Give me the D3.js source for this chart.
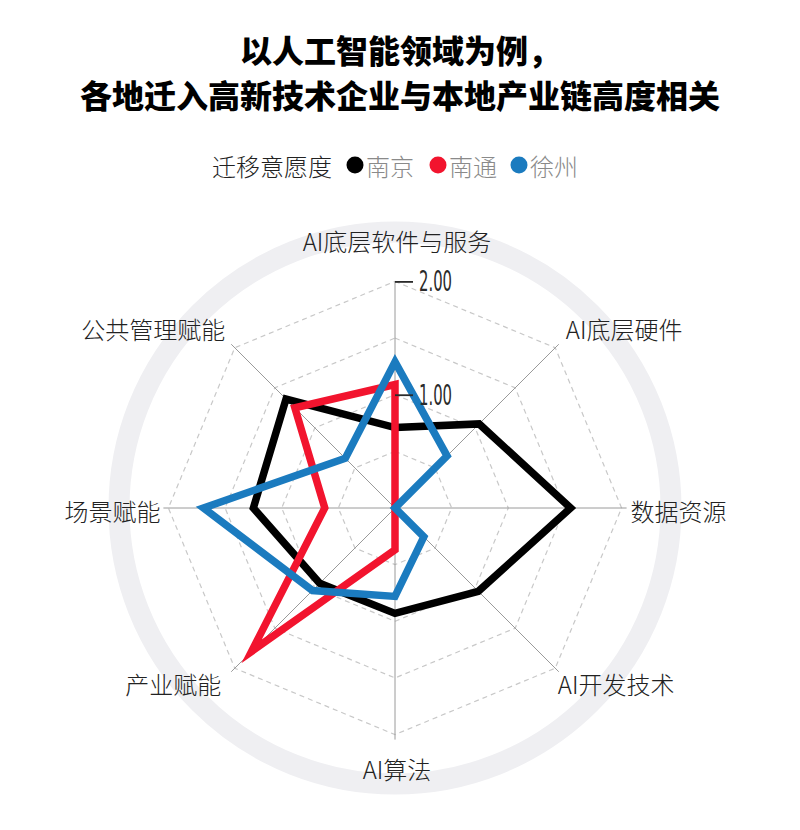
<!DOCTYPE html>
<html><head><meta charset="utf-8">
<script src="https://cdn.jsdelivr.net/npm/d3@7"></script>
<style>body{margin:0;background:#fff} svg{display:block}</style>
</head><body><svg id="c" width="800" height="830"></svg>
<script>
const axesNames = ["AI底层软件与服务","AI底层硬件","数据资源","AI开发技术","AI算法","产业赋能","场景赋能","公共管理赋能"];
const seriesNames = ["南京","南通","徐州"];
const nanjing = [0.71,1.05,1.55,1.04,0.93,0.94,1.25,1.36];
const nantong = [1.09,0,0,0,0.37,1.79,0.62,1.25];
const xuzhou  = [1.29,0.65,0,0.36,0.78,1.03,1.69,0.62];
const gridLevels = [0.5,1,1.5,2];
const tickValues = [1,2];
const tickLabels = ["1.00","2.00"];
const titleLines = ["以人工智能领域为例，","各地迁入高新技术企业与本地产业链高度相关"];
const legendTitle = "迁移意愿度";

const colors = ["#000000","#f2142e","#1b7bbf"];
const seriesData = [nanjing, nantong, xuzhou];
const svg = d3.select("#c");
const cx = 395, cy = 508;
const r = d3.scaleLinear().domain([0,2]).range([0,226.6]);
const n = axesNames.length;
const ang = i => i*2*Math.PI/n;
const CJK = "'Noto Sans CJK SC','Noto Sans',sans-serif";

// title
svg.selectAll("text.title").data(titleLines).join("text")
  .attr("class","title").attr("x",400).attr("y",(d,i)=>49+i*45)
  .attr("text-anchor","middle").attr("dominant-baseline","central")
  .attr("font-family",CJK).attr("font-weight",900).attr("font-size",32).attr("fill","#000")
  .text(d=>d);

// legend
const lg = svg.append("g");
lg.append("text").attr("x",212).attr("y",165).attr("dominant-baseline","central")
  .attr("font-family",CJK).attr("font-weight",300).attr("font-size",24).attr("fill","#222").text(legendTitle);
const legendX = [355,438,519];
seriesNames.forEach((s,i)=>{
  lg.append("circle").attr("cx",legendX[i]).attr("cy",165).attr("r",8.5).attr("fill",colors[i]);
  lg.append("text").attr("x",legendX[i]+11).attr("y",165).attr("dominant-baseline","central")
    .attr("font-family",CJK).attr("font-weight",300).attr("font-size",24).attr("fill","#8a8a8a").text(s);
});

const g = svg.append("g").attr("transform",`translate(${cx},${cy})`);
// outer ring
g.append("circle").attr("r",276).attr("fill","none").attr("stroke","#efeff2").attr("stroke-width",21);

// dashed grid
const gridLine = d3.lineRadial().angle((d,i)=>ang(i)).radius(d=>r(d)).curve(d3.curveLinearClosed);
g.selectAll("path.grid").data(gridLevels).join("path").attr("class","grid")
  .attr("d",lv=>gridLine(axesNames.map(()=>lv)))
  .attr("fill","none").attr("stroke","#c8c8c8").attr("stroke-width",1.2).attr("stroke-dasharray","5,4");

// axis lines
const axisLen = i => i===0 ? r(2) : r(2)+5;
g.selectAll("line.ax").data(axesNames).join("line").attr("class","ax")
  .attr("x1",0).attr("y1",0)
  .attr("x2",(d,i)=>Math.sin(ang(i))*axisLen(i))
  .attr("y2",(d,i)=>-Math.cos(ang(i))*axisLen(i))
  .attr("stroke","#9a9a9a").attr("stroke-width",1);

// axis labels
g.selectAll("text.lab").data(axesNames).join("text").attr("class","lab")
  .each(function(d,i){
    const s = Math.sin(ang(i)), c = -Math.cos(ang(i));
    const ex = s*axisLen(i), ey = c*axisLen(i);
    let x, y, anchor;
    if (Math.abs(s) < 0.01) { x = 2; y = c < 0 ? -268 : 260; anchor = "middle"; }
    else if (Math.abs(c) < 0.01) { x = ex + (s>0 ? 4 : -3); y = 2; anchor = s>0 ? "start" : "end"; }
    else if (c < 0) { x = ex + (s>0 ? 7 : -6); y = ey - 16; anchor = s>0 ? "start" : "end"; }
    else { x = ex + (s>0 ? -1 : -10); y = ey + 12; anchor = s>0 ? "start" : "end"; }
    d3.select(this).attr("x",x).attr("y",y).attr("text-anchor",anchor);
  })
  .attr("dominant-baseline","central")
  .attr("font-family",CJK).attr("font-weight",300).attr("font-size",24).attr("fill","#222")
  .text(d=>d);

// series
const line = d3.lineRadial().angle((d,i)=>ang(i)).radius(d=>r(d)).curve(d3.curveLinearClosed);
g.selectAll("path.series").data(seriesData).join("path").attr("class","series")
  .attr("d",d=>line(d)).attr("fill","none")
  .attr("stroke",(d,i)=>colors[i]).attr("stroke-width",7.5).attr("stroke-linejoin","miter").attr("stroke-miterlimit",6);

// tick axis
const yAx = d3.scaleLinear().domain([0,2]).range([0,-226.6]);
const ta = g.append("g").style("color","#2a2a2a")
  .call(d3.axisRight(yAx).tickValues(tickValues).tickSize(18).tickPadding(6)
    .tickFormat((d,i)=>tickLabels[i]));
ta.select(".domain").remove();
ta.selectAll("line").attr("stroke-width",1.8);
ta.selectAll("text").attr("font-family","'Liberation Sans Narrow','DejaVu Sans Condensed',sans-serif")
  .attr("font-size",28).attr("font-weight",400).attr("dy",null).attr("dominant-baseline","central")
  .attr("textLength",33).attr("lengthAdjust","spacingAndGlyphs").attr("fill","#2a2a2a");
</script></body></html>
